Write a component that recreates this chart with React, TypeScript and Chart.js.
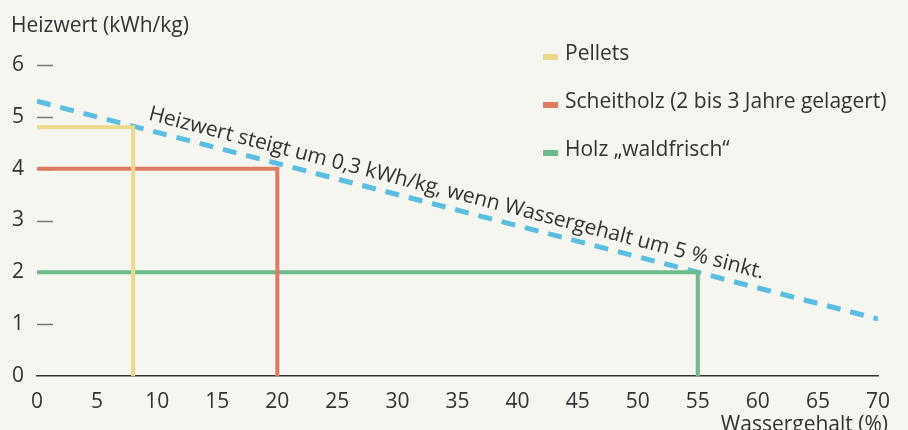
import { useEffect, useRef } from "react";
import { Chart, registerables } from "chart.js";

Chart.register(...registerables);

// ---- Data ----
const seriesNames = ["Pellets", "Scheitholz (2 bis 3 Jahre gelagert)", "Holz \u201Ewaldfrisch\u201C"];
const waterContent = [8, 20, 55]; // Wassergehalt (%)
const heatingValue = [4.8, 4.0, 2.0]; // Heizwert (kWh/kg)
const seriesColors = ["#ecd98a", "#e07a62", "#6dbb8a"];

const trendX = [0, 70];
const trendY = [5.3, 1.1];
const trendColor = "#5bbde0";
const trendLabel = "Heizwert steigt um 0,3 kWh/kg, wenn Wassergehalt um 5 % sinkt.";
const trendLabelX = 9.0;

const xTicks = [0, 5, 10, 15, 20, 25, 30, 35, 40, 45, 50, 55, 60, 65, 70];
const yTicks = [0, 1, 2, 3, 4, 5, 6];
const yTitle = "Heizwert (kWh/kg)";
const xTitle = "Wassergehalt (%)";

const FONT = "'Open Sans', 'Noto Sans', sans-serif";
const FS = 21;
const TEXT = "#333333";
const BG = "#f4f6ef";

const decorPlugin = {
  id: "decor",
  beforeDatasetsDraw(chart: any) {
    const { ctx, chartArea, scales } = chart;
    const y = scales.y;
    ctx.save();
    ctx.strokeStyle = "#777777";
    ctx.lineWidth = 1.5;
    yTicks.forEach((v) => {
      if (v === 0) return;
      const py = Math.round(y.getPixelForValue(v)) + 0.5;
      ctx.beginPath();
      ctx.moveTo(chartArea.left, py);
      ctx.lineTo(chartArea.left + 16, py);
      ctx.stroke();
    });
    ctx.restore();
  },
  afterDraw(chart: any) {
    const { ctx, scales } = chart;
    const x = scales.x;
    const y = scales.y;
    ctx.save();
    ctx.fillStyle = TEXT;
    ctx.font = `${FS}px ${FONT}`;
    ctx.textBaseline = "alphabetic";
    // y title
    ctx.textAlign = "left";
    ctx.fillText(yTitle, 11, 32);
    // x title
    ctx.textAlign = "right";
    ctx.fillText(xTitle, 888, 431);

    // legend
    const lx = 543;
    const baselines = [60, 108, 156];
    seriesNames.forEach((name, i) => {
      ctx.fillStyle = seriesColors[i];
      ctx.fillRect(lx, baselines[i] - 6, 15, 6);
      ctx.fillStyle = TEXT;
      ctx.textAlign = "left";
      ctx.fillText(name, lx + 22, baselines[i]);
    });

    // trend annotation
    const x0 = x.getPixelForValue(trendX[0]);
    const y0 = y.getPixelForValue(trendY[0]);
    const x1 = x.getPixelForValue(trendX[1]);
    const y1 = y.getPixelForValue(trendY[1]);
    const ang = Math.atan2(y1 - y0, x1 - x0);
    const t = (trendLabelX - trendX[0]) / (trendX[1] - trendX[0]);
    const vy = trendY[0] + t * (trendY[1] - trendY[0]);
    const px = x.getPixelForValue(trendLabelX);
    const py = y.getPixelForValue(vy);
    ctx.translate(px, py);
    ctx.rotate(ang);
    ctx.fillStyle = TEXT;
    ctx.textAlign = "left";
    ctx.fillText(trendLabel, 0, -10);
    ctx.restore();
  },
};

export default function App() {
  const ref = useRef<HTMLCanvasElement | null>(null);

  useEffect(() => {
    if (!ref.current) return;
    const series = seriesNames.map((name, i) => ({
      label: name,
      data: [
        { x: 0, y: heatingValue[i] },
        { x: waterContent[i], y: heatingValue[i] },
        { x: waterContent[i], y: 0 },
      ],
      borderColor: seriesColors[i],
      backgroundColor: seriesColors[i],
      borderWidth: 4,
      pointRadius: 0,
      fill: false,
      tension: 0,
      borderCapStyle: "butt",
      borderJoinStyle: "miter",
    }));
    const trend = {
      label: trendLabel,
      data: trendX.map((v, i) => ({ x: v, y: trendY[i] })),
      borderColor: trendColor,
      backgroundColor: trendColor,
      borderWidth: 5,
      borderDash: [14, 10],
      pointRadius: 0,
      fill: false,
      tension: 0,
      borderCapStyle: "butt",
    };
    const chart = new Chart(ref.current, {
      type: "line",
      data: { datasets: [...series, trend] as any },
      options: {
        animation: false,
        responsive: false,
        devicePixelRatio: 1,
        layout: { padding: { top: 65, right: 30, left: 0, bottom: 0 } },
        plugins: { legend: { display: false }, tooltip: { enabled: false } },
        scales: {
          x: {
            type: "linear",
            min: 0,
            max: 70,
            afterBuildTicks: (s: any) => {
              s.ticks = xTicks.map((v) => ({ value: v }));
            },
            afterFit: (s: any) => {
              s.height = 54;
            },
            grid: { display: false, drawTicks: false },
            border: { display: true, color: "#333333", width: 1.5 },
            ticks: { color: TEXT, font: { family: FONT, size: FS }, padding: 13, maxRotation: 0 },
          },
          y: {
            type: "linear",
            min: 0,
            max: 6,
            afterBuildTicks: (s: any) => {
              s.ticks = yTicks.map((v) => ({ value: v }));
            },
            afterFit: (s: any) => {
              s.width = 37;
            },
            grid: { display: false, drawTicks: false },
            border: { display: false },
            ticks: { color: TEXT, font: { family: FONT, size: FS }, padding: 13 },
          },
        },
      },
      plugins: [decorPlugin],
    });
    return () => chart.destroy();
  }, []);

  return (
    <div style={{ position: "absolute", left: 0, top: 0, width: 908, height: 430, background: BG }}>
      <canvas ref={ref} width={908} height={430} style={{ display: "block" }} />
    </div>
  );
}
